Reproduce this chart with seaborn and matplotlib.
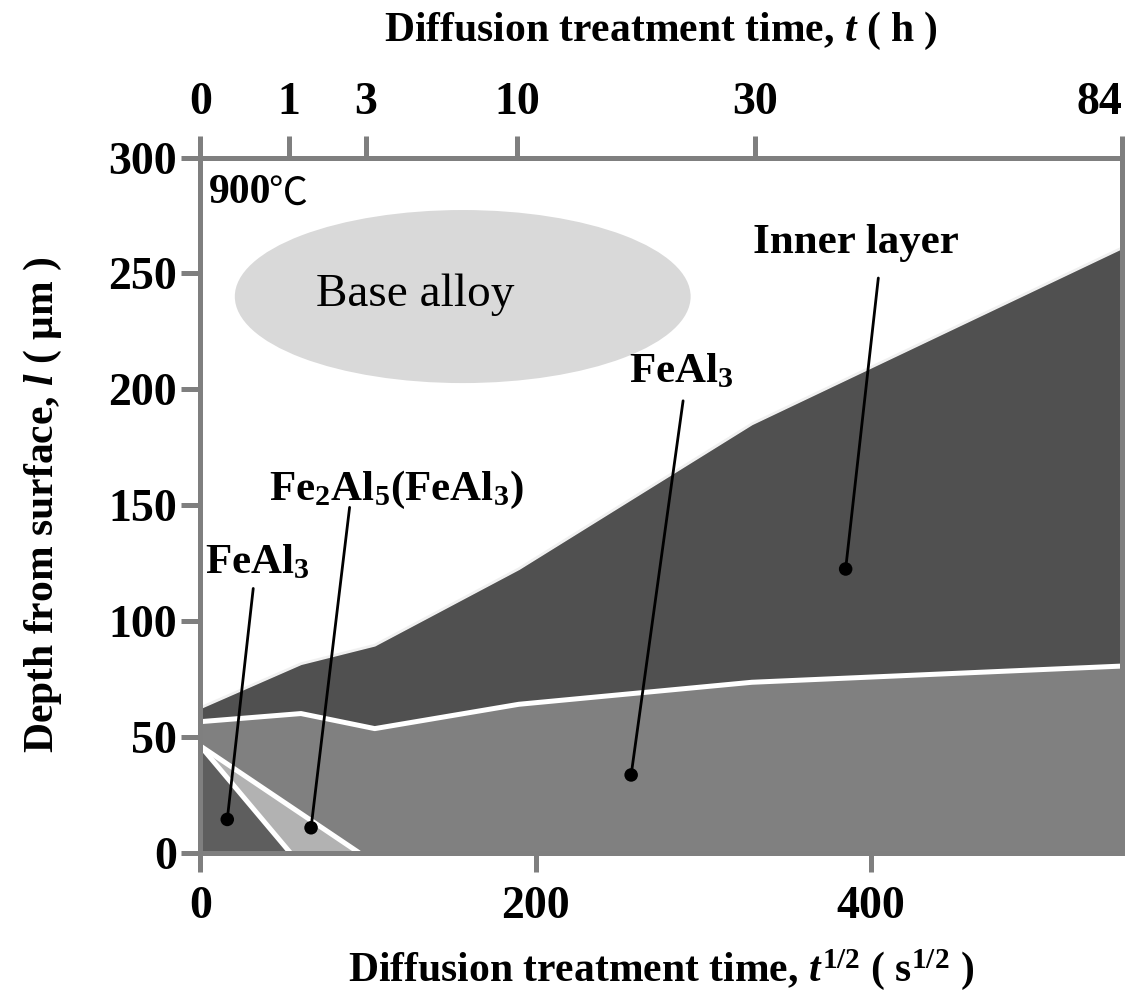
import numpy as np
import seaborn as sns
from matplotlib import pyplot as plt
from matplotlib.patches import Ellipse

# treatment times (h) and the matching sqrt(s) positions of the boundary kinks
hours = [0, 1, 3, 10, 30, 84]
sqrt_s = [0, 60, 104, 190, 329, 549.9]
# where the hour ticks sit on the top axis
top_tick_pos = [0, 53, 98.5, 189, 331, 549.9]

# layer boundaries, depth in um
inner_top = [62.5, 81.5, 89.5, 122.5, 185, 261]
feal3_top = [56.5, 60, 53.5, 64, 73.5, 80.5]

# small wedges near the surface at short times
feal3_small_x = [0, 53.5]
feal3_small_y = [46, 0]
fe2al5_x = [0, 94.5]
fe2al5_y = [46, 0]

# label text, label position, line start, dot position
labels = ['FeAl$_3$', 'Fe$_2$Al$_5$(FeAl$_3$)', 'FeAl$_3$', 'Inner layer']
label_x = [34, 117, 287, 391]
label_y = [125, 156.5, 207.5, 263]
line_x = [31.5, 89, 288, 404.5]
line_y = [114, 149, 195, 248]
dot_x = [16, 66, 257, 385]
dot_y = [14.3, 10.7, 33.5, 122.4]

sns.set_theme(style='white')
plt.rcParams['font.family'] = ['Liberation Serif', 'DejaVu Serif']
plt.rcParams['font.weight'] = 'bold'
plt.rcParams['axes.labelweight'] = 'bold'
plt.rcParams['text.color'] = 'black'
plt.rcParams['axes.labelcolor'] = 'black'
plt.rcParams['xtick.color'] = 'black'
plt.rcParams['ytick.color'] = 'black'
plt.rcParams['mathtext.fontset'] = 'custom'
plt.rcParams['mathtext.rm'] = 'Liberation Serif:bold'
plt.rcParams['mathtext.it'] = 'Liberation Serif:italic:bold'
plt.rcParams['mathtext.bf'] = 'Liberation Serif:bold'

spine_col = '#7f7f7f'
fig, ax = plt.subplots(figsize=(11.37, 9.94), dpi=100)
fig.subplots_adjust(left=0.1763, right=0.9868, bottom=0.1423, top=0.8415)

# filled layers
ax.fill_between(sqrt_s, 0, inner_top, color='#505050', lw=0, zorder=1)
ax.fill_between(sqrt_s, 0, feal3_top, color='#808080', lw=0, zorder=1.1)
ax.fill_between(fe2al5_x, 0, fe2al5_y, color='#b2b2b2', lw=0, zorder=1.2)
ax.fill_between(feal3_small_x, 0, feal3_small_y, color='#5e5e5e', lw=0, zorder=1.3)

# white boundary lines
sns.lineplot(x=sqrt_s, y=inner_top, color='#f0f0f0', lw=2, ax=ax, zorder=1.5)
sns.lineplot(x=sqrt_s, y=feal3_top, color='white', lw=3.6, ax=ax, zorder=1.5)
sns.lineplot(x=fe2al5_x, y=fe2al5_y, color='white', lw=3.6, ax=ax, zorder=1.5)
sns.lineplot(x=feal3_small_x, y=feal3_small_y, color='white', lw=3.6, ax=ax, zorder=1.5)

# base alloy region
ax.add_patch(Ellipse((156.5, 240), 272, 74.7, color='#d9d9d9', lw=0, zorder=1))
ax.text(128, 240.6, 'Base alloy', fontsize=34, fontweight='normal',
        ha='center', va='center', zorder=3)
ax.text(5, 284.5, '900', fontsize=30, ha='left', va='center', zorder=3)
ax.text(40.5, 284.5, '℃', fontsize=28, fontweight='normal', ha='left', va='center',
        family=['Noto Sans CJK JP', 'DejaVu Sans'], zorder=3)

# pointer labels
for i in range(len(labels)):
    ax.text(label_x[i], label_y[i], labels[i], fontsize=31,
            ha='center', va='center', zorder=3)
    ax.plot([line_x[i], dot_x[i]], [line_y[i], dot_y[i]], color='black', lw=2, zorder=3)
sns.scatterplot(x=dot_x, y=dot_y, color='black', s=95, edgecolor='none', ax=ax, zorder=4)

ax.set_xlim(0, 549.9)
ax.set_ylim(0, 300)
ax.set_xticks([0, 200, 400])
ax.set_yticks([0, 50, 100, 150, 200, 250, 300])
ax.tick_params(axis='both', which='major', direction='out', length=14, width=3.6,
               color=spine_col, labelsize=33, bottom=True, left=True)
ax.tick_params(axis='y', pad=3)
ax.tick_params(axis='x', pad=10)
for sp in ax.spines.values():
    sp.set_color(spine_col)
    sp.set_linewidth(3.6)
    sp.set_zorder(5)

ax.set_xlabel('Diffusion treatment time, $t^{1/2}$ ( s$^{1/2}$ )', fontsize=30, labelpad=14)
ax.set_ylabel('Depth from surface, $l$ ( μm )', fontsize=30, labelpad=32)

sec = ax.secondary_xaxis('top')
sec.set_xticks(top_tick_pos, labels=[str(h) for h in hours])
sec.tick_params(direction='out', length=16, width=3.6, color=spine_col,
                labelsize=33, pad=8)
sec.get_xticklabels()[-1].set_horizontalalignment('right')
sec.spines['top'].set_color(spine_col)
sec.spines['top'].set_linewidth(3.6)
sec.set_xlabel('Diffusion treatment time, $t$ ( h )', fontsize=30, labelpad=30)

plt.savefig('out.png', dpi=100)
